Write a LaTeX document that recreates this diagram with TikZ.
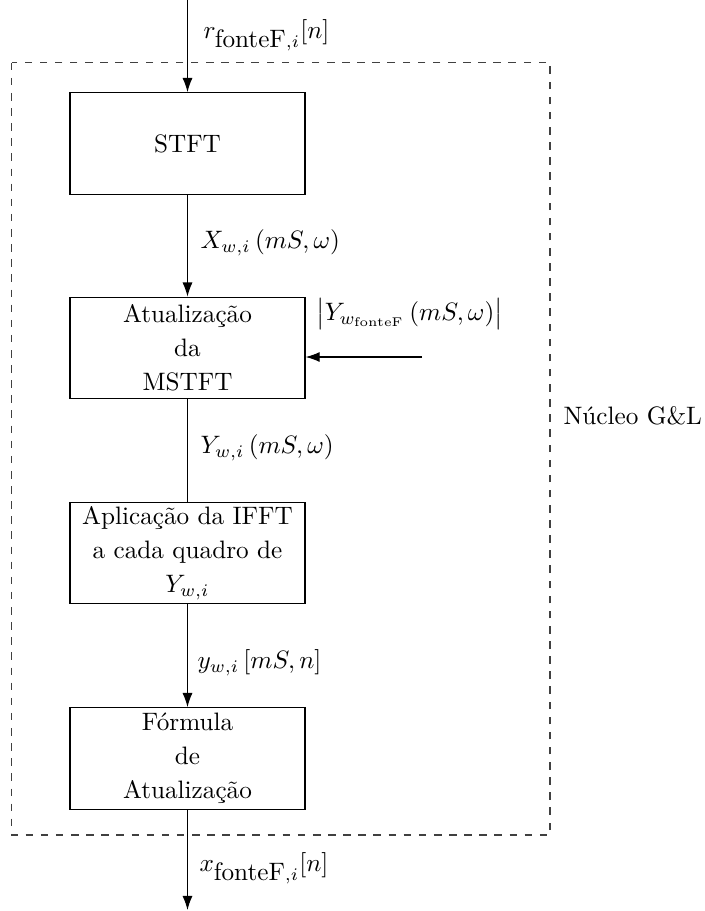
\documentclass[tikz,border=0pt]{standalone}
\usetikzlibrary{arrows.meta,positioning}
\begin{document}
\begin{tikzpicture}[x=0.3968pt,y=-0.3968pt,
  blockbox/.style={draw,line width=0.5pt,minimum width=93.25pt,minimum height=40.3pt,
    align=center,inner sep=1pt,font=\linespread{1.12}\selectfont},
  sig/.style={line width=0.45pt,-{Latex[length=5.6pt,width=4pt]}},
  plainsig/.style={line width=0.45pt},
  lbl/.style={anchor=west,inner sep=0pt},
  frame/.style={dashed,black!75,line width=0.45pt,dash pattern=on 3pt off 3pt}]
\useasboundingbox (0,0) rectangle (704,911);

% dashed outline of the G&L core
\draw[frame] (11.7,62.7) rectangle (550,835);
\node[lbl] (core) at (563,416) {Núcleo G\&L};

% processing blocks
\node[blockbox] (stft) at (187.5,143.5) {STFT};
\node[blockbox] (upd)  at (187.5,348) {Atualização\\da\\MSTFT};
\node[blockbox] (ifft) at (187.5,553) {Aplicação da IFFT\\a cada quadro de\\$Y_{w,i}$};
\node[blockbox] (form) at (187.5,758.5) {Fórmula\\de\\Atualização};

% free ends of the input/output lines
\coordinate (in)  at (187.5,0);
\coordinate (out) at (187.5,910);
\coordinate (mag) at (422,357);

% connectors
\draw[sig] (in) -- (stft.north);
\draw[sig] (stft.south) -- (upd.north);
\draw[plainsig] (upd.south) -- (ifft.north);
\draw[sig] (ifft.south) -- (form.north);
\draw[sig] (form.south) -- (out);
\draw[sig] (mag) -- (mag -| upd.east);

% signal labels
\node[lbl] (lr)  at (203,35)  {$r_{\textrm{fonteF},i}[n]$};
\node[lbl] (lx)  at (200,243) {$X_{w,i}\left(mS,\omega\right)$};
\node[lbl] (lm)  at (316,314) {$\bigl|Y_{w_{\mathrm{fonteF}}}\left(mS,\omega\right)\bigr|$};
\node[lbl] (ly)  at (200,448) {$Y_{w,i}\left(mS,\omega\right)$};
\node[lbl] (lyt) at (197,663) {$y_{w,i}\left[mS,n\right]$};
\node[lbl] (lo)  at (199,868) {$x_{\textrm{fonteF},i}[n]$};
\end{tikzpicture}
\end{document}
